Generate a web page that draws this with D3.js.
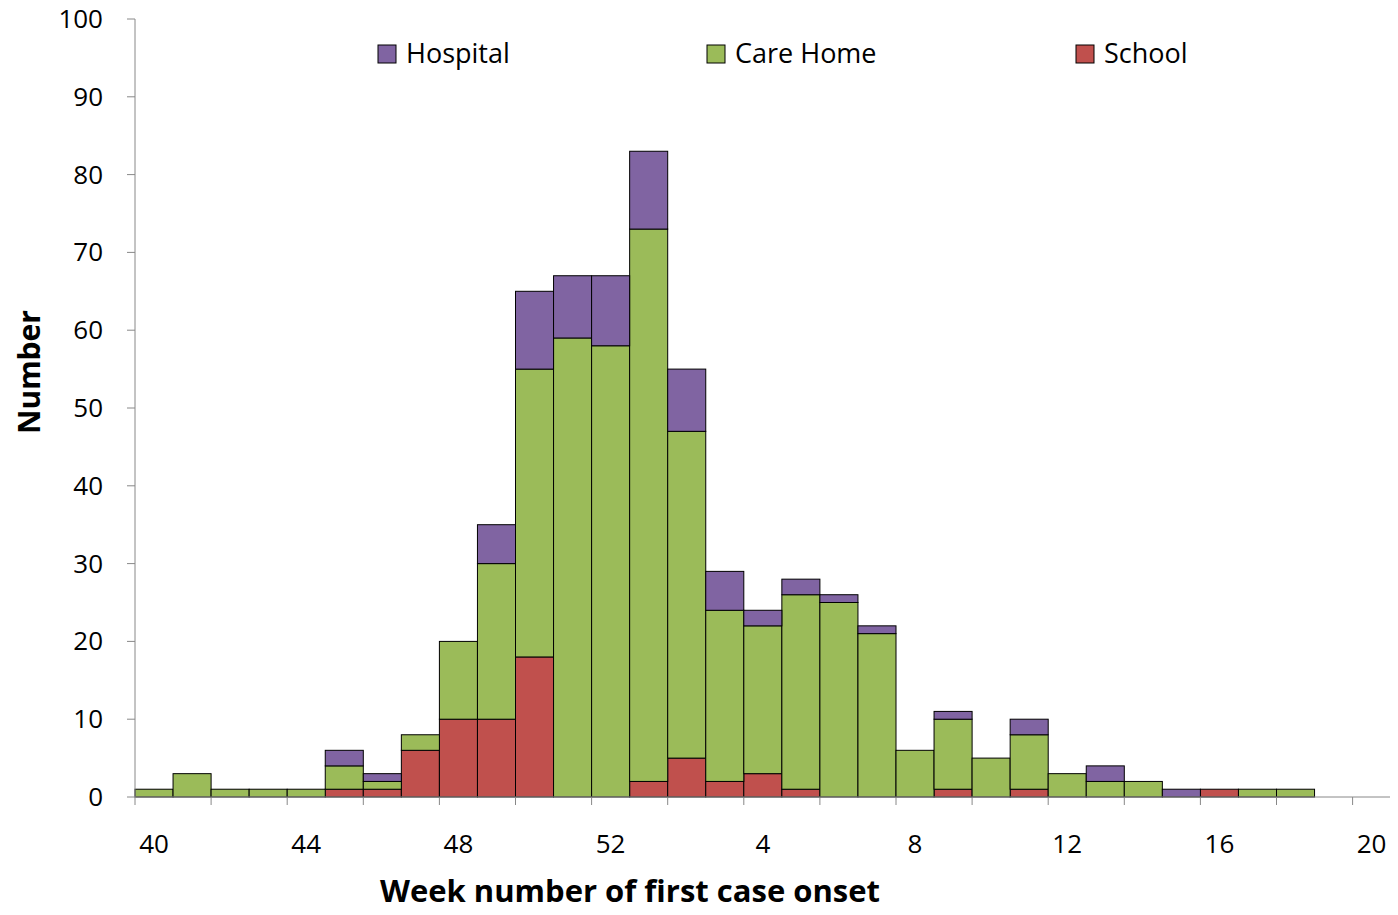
<!DOCTYPE html><html><head><meta charset="utf-8"><script src="https://cdn.jsdelivr.net/npm/d3@7"></script>
<style>body{margin:0;background:#fff}text{font-family:"Open Sans",Lato,sans-serif}</style></head><body><svg width="1398" height="915"></svg>
<script>
const weeks=[40,41,42,43,44,45,46,47,48,49,50,51,52,1,2,3,4,5,6,7,8,9,10,11,12,13,14,15,16,17,18,19,20];
const school=[0,0,0,0,0,1,1,6,10,10,18,0,0,2,5,2,3,1,0,0,0,1,0,1,0,0,0,0,1,0,0,0,0];
const careHome=[1,3,1,1,1,3,1,2,10,20,37,59,58,71,42,22,19,25,25,21,6,9,5,7,3,2,2,0,0,1,1,0,0];
const hospital=[0,0,0,0,0,2,1,0,0,5,10,8,9,10,8,5,2,2,1,1,0,1,0,2,0,2,0,1,0,0,0,0,0];
const yTicks=[0,10,20,30,40,50,60,70,80,90,100];
const xLabels=[40,44,48,52,4,8,12,16,20];
const series=[{name:"School",vals:school,c:"#C0504D"},{name:"Care Home",vals:careHome,c:"#9BBB59"},{name:"Hospital",vals:hospital,c:"#8064A2"}];
const svg=d3.select("svg");
const L=135,R=1390,T=19,B=797;
const x=d3.scaleBand().domain(d3.range(weeks.length)).range([L,L+38.05*weeks.length]).padding(0);
const y=d3.scaleLinear().domain([0,100]).range([B,T]);
const stack=d3.stack().keys([0,1,2]).value((d,k)=>series[k].vals[d])(d3.range(weeks.length));
stack.forEach((layer,k)=>{svg.append("g").selectAll("rect").data(layer.filter(d=>d[1]>d[0])).join("rect")
 .attr("x",d=>x(d.data)).attr("width",x.bandwidth()).attr("y",d=>y(d[1])).attr("height",d=>y(d[0])-y(d[1]))
 .attr("fill",series[k].c).attr("stroke","#000").attr("stroke-width",1);});
svg.append("line").attr("x1",L).attr("x2",L).attr("y1",T).attr("y2",B).attr("stroke","#888");
yTicks.forEach(t=>{svg.append("line").attr("x1",L-8).attr("x2",L).attr("y1",y(t)).attr("y2",y(t)).attr("stroke","#888");
 svg.append("text").attr("x",103).attr("y",y(t)+9).attr("text-anchor","end").attr("font-size",26).text(t);});
svg.append("line").attr("x1",L).attr("x2",R).attr("y1",B).attr("y2",B).attr("stroke","#888");
for(let i=0;i<=weeks.length;i+=2){const xx=L+x.step()*i;svg.append("line").attr("x1",xx).attr("x2",xx).attr("y1",B).attr("y2",B+8).attr("stroke","#888");}
weeks.forEach((w,i)=>{if(xLabels.includes(w)&&i%4===0)svg.append("text").attr("x",x(i)+x.bandwidth()/2).attr("y",853).attr("text-anchor","middle").attr("font-size",26).text(w);});
svg.append("text").attr("x",630).attr("y",902).attr("text-anchor","middle").attr("font-size",31).attr("font-weight","bold").text("Week number of first case onset");
svg.append("text").attr("transform","translate(40,372) rotate(-90)").attr("text-anchor","middle").attr("font-size",30).attr("font-weight","bold").text("Number");
[[series[2],378],[series[1],707],[series[0],1076]].forEach(([s,lx])=>{
 svg.append("rect").attr("x",lx).attr("y",45).attr("width",18).attr("height",18).attr("fill",s.c).attr("stroke","#000");
 svg.append("text").attr("x",lx+28).attr("y",63).attr("font-size",27).text(s.name);});
</script></body></html>
